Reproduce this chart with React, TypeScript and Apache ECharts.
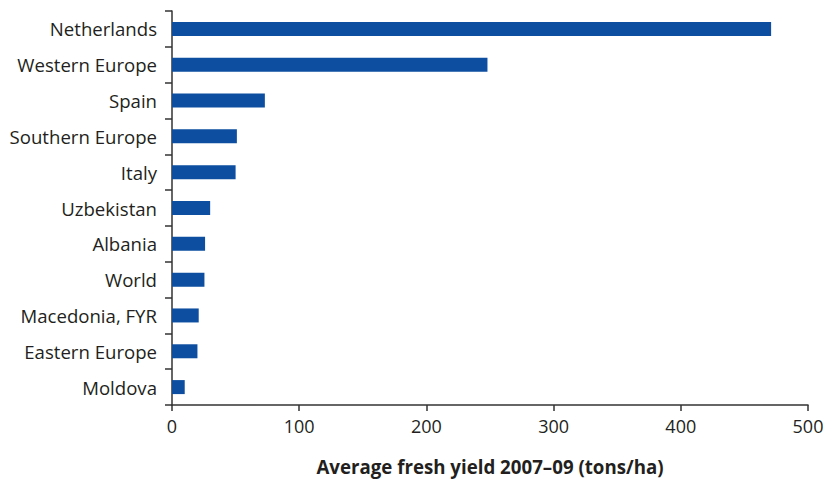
import React, { useEffect, useRef } from "react";
import * as echarts from "echarts";

const categories = [
  "Netherlands",
  "Western Europe",
  "Spain",
  "Southern Europe",
  "Italy",
  "Uzbekistan",
  "Albania",
  "World",
  "Macedonia, FYR",
  "Eastern Europe",
  "Moldova",
];
const values = [471, 248, 73, 51, 50, 30, 26, 25.5, 21, 20, 10];
const xTicks = [0, 100, 200, 300, 400, 500];
const axisTitle = "Average fresh yield 2007–09 (tons/ha)";

export default function App() {
  const ref = useRef<HTMLDivElement>(null);
  useEffect(() => {
    if (!ref.current) return;
    const chart = echarts.init(ref.current, undefined, { renderer: "svg" });
    const font = "'Open Sans', 'Noto Sans', sans-serif";
    chart.setOption({
      animation: false,
      grid: { left: 172, right: 21, top: 11, bottom: 74, containLabel: false },
      xAxis: {
        type: "value",
        min: xTicks[0],
        max: xTicks[xTicks.length - 1],
        interval: 100,
        axisLine: { show: true, lineStyle: { color: "#333", width: 1.5 } },
        axisTick: { show: true, length: 6, lineStyle: { color: "#333", width: 1.5 } },
        splitLine: { show: false },
        axisLabel: { color: "#231f20", fontSize: 18, fontFamily: font, margin: 12 },
      },
      yAxis: {
        type: "category",
        data: categories,
        inverse: true,
        axisLine: { show: true, lineStyle: { color: "#333", width: 1.5 } },
        axisTick: { show: true, length: 7, lineStyle: { color: "#333", width: 1.5 } },
        axisLabel: { color: "#231f20", fontSize: 18.6, fontFamily: font, margin: 15 },
      },
      series: [
        {
          type: "bar",
          data: values,
          barWidth: 14,
          itemStyle: { color: "#0D4EA0" },
        },
      ],
      graphic: [
        {
          type: "text",
          x: 490,
          y: 466,
          style: {
            text: axisTitle,
            fontSize: 18.7,
            fontWeight: "bold",
            fontFamily: font,
            fill: "#231f20",
            align: "center",
            verticalAlign: "middle",
          },
        },
      ],
    });
    return () => chart.dispose();
  }, []);
  return (
    <div
      ref={ref}
      style={{ position: "fixed", left: 0, top: 0, width: 829, height: 479, background: "#fff" }}
    />
  );
}
